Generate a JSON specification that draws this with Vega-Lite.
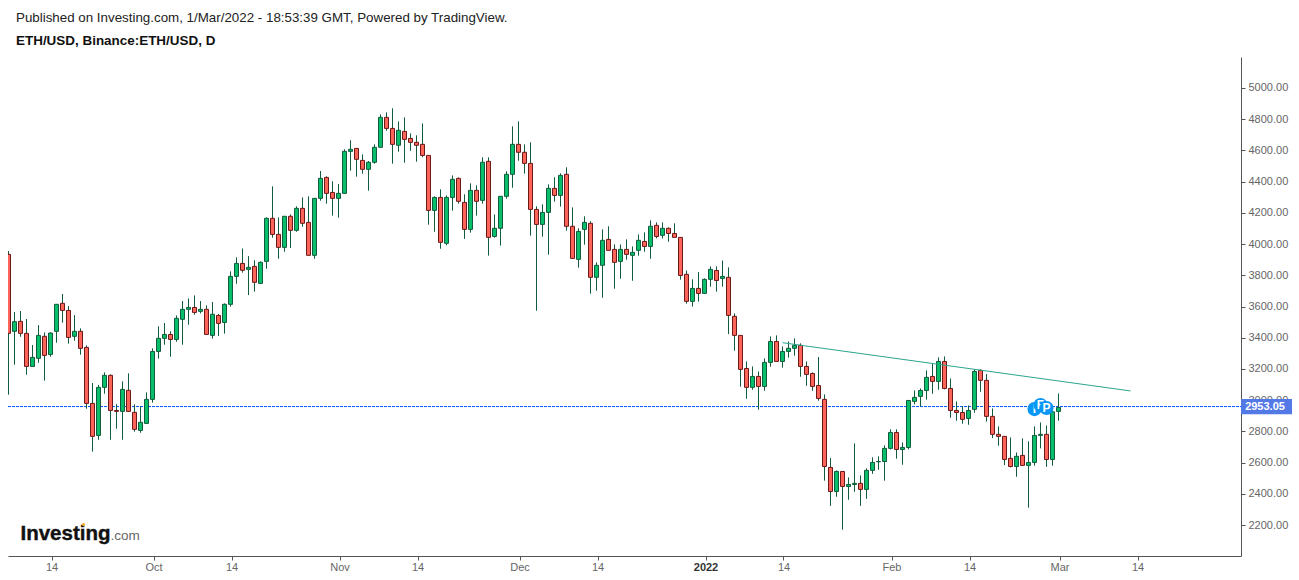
{
  "$schema": "https://vega.github.io/schema/vega-lite/v6.json",
  "width": 1233,
  "height": 499,
  "autosize": {"type": "none"},
  "padding": {"left": 8, "top": 57, "right": 58, "bottom": 24},
  "background": "#ffffff",
  "config": {"view": {"stroke": null}},
  "title": {
    "text": "Published on Investing.com, 1/Mar/2022 - 18:53:39 GMT, Powered by TradingView.",
    "subtitle": "ETH/USD, Binance:ETH/USD, D",
    "anchor": "start",
    "frame": "group",
    "dx": 8,
    "offset": 10,
    "font": "Liberation Sans",
    "fontSize": 13.35,
    "fontWeight": "normal",
    "color": "#222222",
    "subtitleFont": "Liberation Sans",
    "subtitleFontSize": 13.45,
    "subtitleFontWeight": "bold",
    "subtitleColor": "#111111",
    "subtitlePadding": 9
  },
  "datasets": {
    "candles": [
      {"date":"2021-09-07","open":3934,"high":3955,"low":3035,"close":3428},
      {"date":"2021-09-08","open":3441,"high":3565,"low":3227,"close":3503},
      {"date":"2021-09-09","open":3505,"high":3571,"low":3406,"close":3428},
      {"date":"2021-09-10","open":3428,"high":3520,"low":3163,"close":3216},
      {"date":"2021-09-11","open":3216,"high":3353,"low":3216,"close":3274},
      {"date":"2021-09-12","open":3268,"high":3481,"low":3240,"close":3415},
      {"date":"2021-09-13","open":3409,"high":3434,"low":3125,"close":3287},
      {"date":"2021-09-14","open":3293,"high":3434,"low":3278,"close":3430},
      {"date":"2021-09-15","open":3441,"high":3614,"low":3368,"close":3614},
      {"date":"2021-09-16","open":3620,"high":3680,"low":3496,"close":3575},
      {"date":"2021-09-17","open":3575,"high":3603,"low":3362,"close":3402},
      {"date":"2021-09-18","open":3409,"high":3545,"low":3381,"close":3441},
      {"date":"2021-09-19","open":3441,"high":3460,"low":3291,"close":3332},
      {"date":"2021-09-20","open":3338,"high":3351,"low":2945,"close":2979},
      {"date":"2021-09-21","open":2979,"high":3110,"low":2670,"close":2768},
      {"date":"2021-09-22","open":2774,"high":3097,"low":2746,"close":3082},
      {"date":"2021-09-23","open":3082,"high":3178,"low":3041,"close":3159},
      {"date":"2021-09-24","open":3159,"high":3165,"low":2746,"close":2934},
      {"date":"2021-09-25","open":2934,"high":2975,"low":2817,"close":2928},
      {"date":"2021-09-26","open":2928,"high":3120,"low":2746,"close":3069},
      {"date":"2021-09-27","open":3063,"high":3172,"low":2928,"close":2928},
      {"date":"2021-09-28","open":2922,"high":2973,"low":2798,"close":2813},
      {"date":"2021-09-29","open":2806,"high":2958,"low":2791,"close":2858},
      {"date":"2021-09-30","open":2851,"high":3050,"low":2851,"close":3005},
      {"date":"2021-10-01","open":3005,"high":3332,"low":2984,"close":3312},
      {"date":"2021-10-02","open":3312,"high":3473,"low":3266,"close":3396},
      {"date":"2021-10-03","open":3396,"high":3494,"low":3355,"close":3421},
      {"date":"2021-10-04","open":3421,"high":3441,"low":3278,"close":3389},
      {"date":"2021-10-05","open":3389,"high":3543,"low":3374,"close":3524},
      {"date":"2021-10-06","open":3518,"high":3635,"low":3355,"close":3582},
      {"date":"2021-10-07","open":3582,"high":3652,"low":3483,"close":3594},
      {"date":"2021-10-08","open":3594,"high":3671,"low":3547,"close":3562},
      {"date":"2021-10-09","open":3569,"high":3635,"low":3556,"close":3582},
      {"date":"2021-10-10","open":3582,"high":3607,"low":3421,"close":3421},
      {"date":"2021-10-11","open":3415,"high":3629,"low":3394,"close":3550},
      {"date":"2021-10-12","open":3543,"high":3552,"low":3411,"close":3492},
      {"date":"2021-10-13","open":3498,"high":3620,"low":3426,"close":3614},
      {"date":"2021-10-14","open":3614,"high":3825,"low":3599,"close":3793},
      {"date":"2021-10-15","open":3793,"high":3915,"low":3746,"close":3876},
      {"date":"2021-10-16","open":3876,"high":3972,"low":3817,"close":3832},
      {"date":"2021-10-17","open":3838,"high":3923,"low":3673,"close":3851},
      {"date":"2021-10-18","open":3857,"high":3896,"low":3695,"close":3755},
      {"date":"2021-10-19","open":3748,"high":3889,"low":3748,"close":3883},
      {"date":"2021-10-20","open":3889,"high":4171,"low":3842,"close":4165},
      {"date":"2021-10-21","open":4165,"high":4370,"low":4041,"close":4062},
      {"date":"2021-10-22","open":4062,"high":4171,"low":3906,"close":3979},
      {"date":"2021-10-23","open":3979,"high":4178,"low":3951,"close":4178},
      {"date":"2021-10-24","open":4178,"high":4190,"low":3975,"close":4088},
      {"date":"2021-10-25","open":4088,"high":4242,"low":4079,"close":4229},
      {"date":"2021-10-26","open":4229,"high":4299,"low":4111,"close":4133},
      {"date":"2021-10-27","open":4139,"high":4306,"low":3928,"close":3928},
      {"date":"2021-10-28","open":3928,"high":4293,"low":3906,"close":4293},
      {"date":"2021-10-29","open":4293,"high":4468,"low":4278,"close":4421},
      {"date":"2021-10-30","open":4427,"high":4434,"low":4259,"close":4325},
      {"date":"2021-10-31","open":4331,"high":4402,"low":4182,"close":4293},
      {"date":"2021-11-01","open":4293,"high":4385,"low":4169,"close":4325},
      {"date":"2021-11-02","open":4325,"high":4607,"low":4325,"close":4594},
      {"date":"2021-11-03","open":4594,"high":4665,"low":4470,"close":4607},
      {"date":"2021-11-04","open":4613,"high":4613,"low":4432,"close":4543},
      {"date":"2021-11-05","open":4536,"high":4575,"low":4451,"close":4479},
      {"date":"2021-11-06","open":4479,"high":4532,"low":4342,"close":4524},
      {"date":"2021-11-07","open":4524,"high":4639,"low":4515,"close":4620},
      {"date":"2021-11-08","open":4620,"high":4831,"low":4620,"close":4812},
      {"date":"2021-11-09","open":4812,"high":4844,"low":4726,"close":4741},
      {"date":"2021-11-10","open":4741,"high":4870,"low":4515,"close":4639},
      {"date":"2021-11-11","open":4633,"high":4786,"low":4592,"close":4729},
      {"date":"2021-11-12","open":4722,"high":4812,"low":4521,"close":4671},
      {"date":"2021-11-13","open":4677,"high":4709,"low":4598,"close":4652},
      {"date":"2021-11-14","open":4652,"high":4697,"low":4528,"close":4633},
      {"date":"2021-11-15","open":4639,"high":4773,"low":4556,"close":4568},
      {"date":"2021-11-16","open":4568,"high":4568,"low":4124,"close":4216},
      {"date":"2021-11-17","open":4216,"high":4306,"low":4079,"close":4299},
      {"date":"2021-11-18","open":4299,"high":4351,"low":3970,"close":4011},
      {"date":"2021-11-19","open":4005,"high":4312,"low":3992,"close":4299},
      {"date":"2021-11-20","open":4299,"high":4440,"low":4214,"close":4415},
      {"date":"2021-11-21","open":4421,"high":4427,"low":4259,"close":4274},
      {"date":"2021-11-22","open":4267,"high":4319,"low":4034,"close":4094},
      {"date":"2021-11-23","open":4094,"high":4389,"low":4073,"close":4344},
      {"date":"2021-11-24","open":4344,"high":4376,"low":4182,"close":4274},
      {"date":"2021-11-25","open":4280,"high":4556,"low":4259,"close":4524},
      {"date":"2021-11-26","open":4530,"high":4556,"low":3926,"close":4043},
      {"date":"2021-11-27","open":4049,"high":4190,"low":4041,"close":4101},
      {"date":"2021-11-28","open":4101,"high":4306,"low":3990,"close":4306},
      {"date":"2021-11-29","open":4306,"high":4466,"low":4291,"close":4447},
      {"date":"2021-11-30","open":4447,"high":4754,"low":4361,"close":4639},
      {"date":"2021-12-01","open":4639,"high":4786,"low":4534,"close":4588},
      {"date":"2021-12-02","open":4588,"high":4639,"low":4451,"close":4517},
      {"date":"2021-12-03","open":4517,"high":4652,"low":4054,"close":4222},
      {"date":"2021-12-04","open":4222,"high":4242,"low":3573,"close":4126},
      {"date":"2021-12-05","open":4126,"high":4255,"low":4047,"close":4203},
      {"date":"2021-12-06","open":4203,"high":4383,"low":3932,"close":4357},
      {"date":"2021-12-07","open":4357,"high":4428,"low":4272,"close":4312},
      {"date":"2021-12-08","open":4312,"high":4453,"low":4240,"close":4440},
      {"date":"2021-12-09","open":4447,"high":4492,"low":4086,"close":4114},
      {"date":"2021-12-10","open":4114,"high":4235,"low":3908,"close":3908},
      {"date":"2021-12-11","open":3902,"high":4101,"low":3849,"close":4081},
      {"date":"2021-12-12","open":4094,"high":4178,"low":3996,"close":4139},
      {"date":"2021-12-13","open":4133,"high":4146,"low":3682,"close":3787},
      {"date":"2021-12-14","open":3787,"high":3883,"low":3701,"close":3864},
      {"date":"2021-12-15","open":3864,"high":4094,"low":3656,"close":4024},
      {"date":"2021-12-16","open":4030,"high":4114,"low":3960,"close":3960},
      {"date":"2021-12-17","open":3966,"high":3998,"low":3714,"close":3883},
      {"date":"2021-12-18","open":3889,"high":3998,"low":3778,"close":3966},
      {"date":"2021-12-19","open":3966,"high":4030,"low":3900,"close":3934},
      {"date":"2021-12-20","open":3928,"high":3985,"low":3765,"close":3947},
      {"date":"2021-12-21","open":3960,"high":4062,"low":3926,"close":4024},
      {"date":"2021-12-22","open":4017,"high":4075,"low":3951,"close":3985},
      {"date":"2021-12-23","open":3985,"high":4152,"low":3906,"close":4114},
      {"date":"2021-12-24","open":4120,"high":4139,"low":4037,"close":4049},
      {"date":"2021-12-25","open":4056,"high":4139,"low":4036,"close":4101},
      {"date":"2021-12-26","open":4101,"high":4107,"low":4015,"close":4068},
      {"date":"2021-12-27","open":4068,"high":4133,"low":4043,"close":4043},
      {"date":"2021-12-28","open":4043,"high":4043,"low":3772,"close":3799},
      {"date":"2021-12-29","open":3806,"high":3831,"low":3618,"close":3633},
      {"date":"2021-12-30","open":3633,"high":3774,"low":3599,"close":3716},
      {"date":"2021-12-31","open":3716,"high":3821,"low":3631,"close":3684},
      {"date":"2022-01-01","open":3684,"high":3780,"low":3684,"close":3774},
      {"date":"2022-01-02","open":3774,"high":3857,"low":3727,"close":3838},
      {"date":"2022-01-03","open":3831,"high":3857,"low":3695,"close":3767},
      {"date":"2022-01-04","open":3780,"high":3895,"low":3727,"close":3793},
      {"date":"2022-01-05","open":3787,"high":3851,"low":3423,"close":3543},
      {"date":"2022-01-06","open":3537,"high":3556,"low":3317,"close":3415},
      {"date":"2022-01-07","open":3415,"high":3415,"low":3086,"close":3197},
      {"date":"2022-01-08","open":3203,"high":3248,"low":3009,"close":3082},
      {"date":"2022-01-09","open":3082,"high":3216,"low":3067,"close":3152},
      {"date":"2022-01-10","open":3152,"high":3184,"low":2939,"close":3088},
      {"date":"2022-01-11","open":3088,"high":3267,"low":3060,"close":3242},
      {"date":"2022-01-12","open":3242,"high":3408,"low":3214,"close":3376},
      {"date":"2022-01-13","open":3376,"high":3415,"low":3248,"close":3248},
      {"date":"2022-01-14","open":3248,"high":3344,"low":3208,"close":3312},
      {"date":"2022-01-15","open":3312,"high":3376,"low":3272,"close":3332},
      {"date":"2022-01-16","open":3332,"high":3396,"low":3285,"close":3351},
      {"date":"2022-01-17","open":3351,"high":3364,"low":3150,"close":3216},
      {"date":"2022-01-18","open":3216,"high":3248,"low":3092,"close":3165},
      {"date":"2022-01-19","open":3171,"high":3178,"low":3060,"close":3088},
      {"date":"2022-01-20","open":3094,"high":3276,"low":2996,"close":3011},
      {"date":"2022-01-21","open":3005,"high":3037,"low":2484,"close":2575},
      {"date":"2022-01-22","open":2569,"high":2629,"low":2323,"close":2415},
      {"date":"2022-01-23","open":2415,"high":2550,"low":2381,"close":2543},
      {"date":"2022-01-24","open":2543,"high":2543,"low":2170,"close":2447},
      {"date":"2022-01-25","open":2447,"high":2505,"low":2362,"close":2460},
      {"date":"2022-01-26","open":2460,"high":2723,"low":2413,"close":2467},
      {"date":"2022-01-27","open":2467,"high":2518,"low":2323,"close":2428},
      {"date":"2022-01-28","open":2428,"high":2563,"low":2368,"close":2550},
      {"date":"2022-01-29","open":2550,"high":2633,"low":2528,"close":2601},
      {"date":"2022-01-30","open":2605,"high":2640,"low":2554,"close":2607},
      {"date":"2022-01-31","open":2607,"high":2710,"low":2484,"close":2691},
      {"date":"2022-02-01","open":2691,"high":2813,"low":2684,"close":2793},
      {"date":"2022-02-02","open":2793,"high":2813,"low":2625,"close":2684},
      {"date":"2022-02-03","open":2684,"high":2729,"low":2586,"close":2697},
      {"date":"2022-02-04","open":2697,"high":2998,"low":2684,"close":2998},
      {"date":"2022-02-05","open":2992,"high":3062,"low":2973,"close":3018},
      {"date":"2022-02-06","open":3024,"high":3075,"low":2960,"close":3062},
      {"date":"2022-02-07","open":3062,"high":3191,"low":3003,"close":3146},
      {"date":"2022-02-08","open":3152,"high":3235,"low":3041,"close":3120},
      {"date":"2022-02-09","open":3120,"high":3274,"low":3067,"close":3248},
      {"date":"2022-02-10","open":3248,"high":3280,"low":3069,"close":3075},
      {"date":"2022-02-11","open":3075,"high":3139,"low":2887,"close":2934},
      {"date":"2022-02-12","open":2934,"high":2992,"low":2868,"close":2921},
      {"date":"2022-02-13","open":2921,"high":2960,"low":2849,"close":2877},
      {"date":"2022-02-14","open":2883,"high":2966,"low":2842,"close":2934},
      {"date":"2022-02-15","open":2941,"high":3197,"low":2919,"close":3184},
      {"date":"2022-02-16","open":3191,"high":3197,"low":3054,"close":3127},
      {"date":"2022-02-17","open":3127,"high":3167,"low":2862,"close":2896},
      {"date":"2022-02-18","open":2896,"high":2947,"low":2757,"close":2781},
      {"date":"2022-02-19","open":2781,"high":2832,"low":2708,"close":2768},
      {"date":"2022-02-20","open":2768,"high":2768,"low":2584,"close":2620},
      {"date":"2022-02-21","open":2627,"high":2761,"low":2569,"close":2575},
      {"date":"2022-02-22","open":2575,"high":2665,"low":2509,"close":2640},
      {"date":"2022-02-23","open":2646,"high":2755,"low":2582,"close":2582},
      {"date":"2022-02-24","open":2582,"high":2736,"low":2311,"close":2601},
      {"date":"2022-02-25","open":2601,"high":2832,"low":2580,"close":2774},
      {"date":"2022-02-26","open":2774,"high":2857,"low":2691,"close":2781},
      {"date":"2022-02-27","open":2781,"high":2838,"low":2573,"close":2620},
      {"date":"2022-02-28","open":2620,"high":2945,"low":2580,"close":2925},
      {"date":"2022-03-01","open":2928,"high":3043,"low":2868,"close":2953}
    ],
    "trend": [
      {"date":"2022-01-14","price":3368},
      {"date":"2022-03-13","price":3059}
    ],
    "lastline": [
      {"date":"2021-09-06T22:00:00Z","price":2959},
      {"date":"2022-03-31T10:00:00Z","price":2959}
    ],
    "last": [
      {"date":"2022-03-31T10:00:00Z","end":"2022-04-08T22:00:00Z","price":2953.05,"top":3007,"bottom":2910,"label":"2953.05","mid":"2022-04-04T10:00:00Z"}
    ],
    "events": [
      {"date":"2022-02-25","price":2943,"label":"I"},
      {"date":"2022-02-26","price":2969,"label":"F"},
      {"date":"2022-02-27","price":2950,"label":"P"}
    ]
  },
  "encoding": {
    "x": {
      "field": "date",
      "type": "temporal",
      "title": null,
      "scale": {"type": "utc", "padding": 0, "domain": ["2021-09-06T22:00:00Z", "2022-03-31T10:00:00Z"]},
      "axis": {
        "values": ["2021-09-14T04:00:00Z","2021-10-01T04:00:00Z","2021-10-14T04:00:00Z","2021-11-01T04:00:00Z","2021-11-14T04:00:00Z","2021-12-01T04:00:00Z","2021-12-14T04:00:00Z","2022-01-01T04:00:00Z","2022-01-14T04:00:00Z","2022-02-01T04:00:00Z","2022-02-14T04:00:00Z","2022-03-01T04:00:00Z","2022-03-14T04:00:00Z"],
        "labelExpr": "utcdate(datum.value) == 14 ? '14' : utcmonth(datum.value) == 0 ? '2022' : utcFormat(datum.value, '%b')",
        "labelFont": "Liberation Sans",
        "labelFontSize": 11,
        "labelColor": {"condition": {"test": "utcmonth(datum.value) == 0 && utcdate(datum.value) == 1", "value": "#333333"}, "value": "#666666"},
        "labelFontWeight": {"condition": {"test": "utcmonth(datum.value) == 0 && utcdate(datum.value) == 1", "value": "bold"}, "value": "normal"},
        "labelPadding": 1,
        "labelOverlap": false,
        "tickCount": 30,
        "grid": false,
        "domainColor": "#555555",
        "tickColor": "#555555",
        "tickSize": 4
      }
    }
  },
  "layer": [
    {
      "data": {"name": "lastline"},
      "mark": {"type": "line", "stroke": "#0055ff", "strokeWidth": 1, "strokeDash": [3, 1]},
      "encoding": {
        "y": {
          "field": "price",
          "type": "quantitative",
          "title": null,
          "scale": {"domain": [2001.5, 5198.6], "nice": false, "zero": false},
          "axis": {
            "orient": "right",
            "values": [2200,2400,2600,2800,3000,3200,3400,3600,3800,4000,4200,4400,4600,4800,5000],
            "tickCount": 30,
            "format": ".2f",
            "labelFont": "Liberation Sans",
            "labelFontSize": 11,
            "labelColor": "#666666",
            "labelPadding": 3,
            "labelOverlap": false,
            "grid": false,
            "domainColor": "#555555",
            "tickColor": "#555555",
            "tickSize": 4
          }
        }
      }
    },
    {
      "data": {"name": "candles"},
      "mark": {"type": "rule", "stroke": "#115c3c", "strokeWidth": 1, "clip": true},
      "encoding": {
        "y": {"field": "high", "type": "quantitative"},
        "y2": {"field": "low"}
      }
    },
    {
      "data": {"name": "candles"},
      "mark": {"type": "bar", "size": 4, "strokeWidth": 1, "clip": true},
      "encoding": {
        "y": {"field": "open", "type": "quantitative"},
        "y2": {"field": "close"},
        "fill": {"condition": {"test": "datum.close >= datum.open", "value": "#07bf6b"}, "value": "#ff6459"},
        "stroke": {"condition": {"test": "datum.close >= datum.open", "value": "#115c3c"}, "value": "#6b1818"}
      }
    },
    {
      "data": {"name": "trend"},
      "mark": {"type": "line", "stroke": "#2aa58c", "strokeWidth": 1},
      "encoding": {
        "y": {"field": "price", "type": "quantitative"}
      }
    },
    {
      "data": {"name": "events"},
      "transform": [{"filter": "datum.label == 'I'"}],
      "mark": {"type": "circle", "size": 200, "color": "#0a96f5", "opacity": 1},
      "encoding": {"y": {"field": "price", "type": "quantitative"}}
    },
    {
      "data": {"name": "events"},
      "transform": [{"filter": "datum.label == 'I'"}],
      "mark": {"type": "text", "color": "#ffffff", "font": "Liberation Sans", "fontWeight": "bold", "fontSize": 12},
      "encoding": {"y": {"field": "price", "type": "quantitative"}, "text": {"field": "label"}}
    },
    {
      "data": {"name": "events"},
      "transform": [{"filter": "datum.label == 'F'"}],
      "mark": {"type": "circle", "size": 200, "color": "#0a96f5", "opacity": 1},
      "encoding": {"y": {"field": "price", "type": "quantitative"}}
    },
    {
      "data": {"name": "events"},
      "transform": [{"filter": "datum.label == 'F'"}],
      "mark": {"type": "text", "color": "#ffffff", "font": "Liberation Sans", "fontWeight": "bold", "fontSize": 12},
      "encoding": {"y": {"field": "price", "type": "quantitative"}, "text": {"field": "label"}}
    },
    {
      "data": {"name": "events"},
      "transform": [{"filter": "datum.label == 'P'"}],
      "mark": {"type": "circle", "size": 200, "color": "#0a96f5", "opacity": 1},
      "encoding": {"y": {"field": "price", "type": "quantitative"}}
    },
    {
      "data": {"name": "events"},
      "transform": [{"filter": "datum.label == 'P'"}],
      "mark": {"type": "text", "color": "#ffffff", "font": "Liberation Sans", "fontWeight": "bold", "fontSize": 12},
      "encoding": {"y": {"field": "price", "type": "quantitative"}, "text": {"field": "label"}}
    },
    {
      "data": {"name": "last"},
      "mark": {"type": "rect", "fill": "#5379e6"},
      "encoding": {
        "x2": {"field": "end"},
        "y": {"field": "top", "type": "quantitative"},
        "y2": {"field": "bottom"}
      }
    },
    {
      "data": {"name": "last"},
      "mark": {"type": "text", "color": "#ffffff", "font": "Liberation Sans", "fontWeight": "bold", "fontSize": 11},
      "encoding": {
        "x": {"field": "mid", "type": "temporal"},
        "y": {"field": "price", "type": "quantitative"},
        "text": {"field": "label"}
      }
    },
    {
      "data": {"values": [{"date": "2021-09-09", "price": 2105, "label": "Investing"}]},
      "mark": {"type": "text", "align": "left", "baseline": "alphabetic", "font": "Liberation Sans", "fontWeight": "bold", "fontSize": 20.5, "color": "#111111", "stroke": "#111111", "strokeWidth": 0.4},
      "encoding": {"y": {"field": "price", "type": "quantitative"}, "text": {"field": "label"}}
    },
    {
      "data": {"values": [{"date": "2021-09-24", "price": 2105, "label": ".com"}]},
      "mark": {"type": "text", "align": "left", "baseline": "alphabetic", "font": "Liberation Sans", "fontSize": 13.5, "color": "#666666"},
      "encoding": {"y": {"field": "price", "type": "quantitative"}, "text": {"field": "label"}}
    },
    {
      "data": {"values": [{"date": "2021-09-19T12:00:00Z", "price": 2203}]},
      "mark": {"type": "circle", "size": 10, "color": "#f7a823", "opacity": 1},
      "encoding": {"y": {"field": "price", "type": "quantitative"}}
    }
  ]
}
